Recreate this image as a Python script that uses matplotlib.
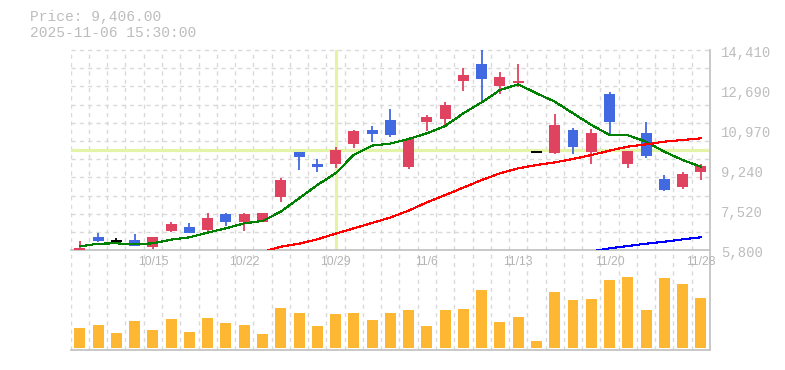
import numpy as np
import matplotlib.pyplot as plt
from matplotlib.transforms import offset_copy

# 日付 (2025)
dates = ['10/8', '10/9', '10/10', '10/14', '10/15', '10/16', '10/17',
         '10/20', '10/21', '10/22', '10/23', '10/24', '10/27', '10/28',
         '10/29', '10/30', '10/31', '11/4', '11/5', '11/6', '11/7',
         '11/10', '11/11', '11/12', '11/13', '11/14', '11/17', '11/18',
         '11/19', '11/20', '11/21', '11/25', '11/26', '11/27', '11/28']

opens = [5810, 6370, 6210, 6240, 5960, 6640, 6800, 6690, 7360, 7030,
         7030, 8110, 10030, 9530, 9530, 10380, 10970, 11400, 9380, 11320,
         11460, 13090, 13810, 12880, 13010, 10040, 10000, 10970, 10040, 12520,
         9530, 10840, 8870, 8540, 9180]
highs = [6200, 6540, 6330, 6500, 6370, 7020, 6970, 7400, 7400, 7400,
         7400, 8890, 10030, 9730, 10230, 10970, 11160, 11880, 10640, 11620,
         12180, 13640, 14410, 13470, 13810, 10040, 11660, 11040, 11020, 12610,
         10070, 11320, 9040, 9170, 9530]
lows = [5800, 6160, 6090, 6000, 5870, 6600, 6560, 6600, 6860, 6640,
        7000, 7890, 9250, 9180, 9350, 10210, 10470, 10690, 9300, 10910,
        11190, 12660, 12230, 12530, 12840, 10040, 9930, 9950, 9500, 10760,
        9350, 9780, 8360, 8450, 8840]
closes = [5900, 6200, 6210, 6000, 6370, 6930, 6560, 7190, 7030, 7360,
          7400, 8820, 9810, 9400, 10110, 10930, 10810, 10760, 10590, 11530,
          12050, 13340, 13180, 13250, 13040, 10040, 11190, 10260, 10840, 11330,
          10070, 9870, 8390, 9080, 9406]

# 出来高 (百万株, 推定)
volumes = [2.0, 2.3, 1.5, 2.7, 1.8, 2.9, 1.6, 3.0, 2.5, 2.3,
           1.4, 4.0, 3.5, 2.2, 3.4, 3.5, 2.8, 3.5, 3.8, 2.2,
           3.8, 3.9, 5.8, 2.6, 3.1, 0.7, 5.6, 4.8, 4.9, 6.8,
           7.1, 3.8, 7.0, 6.4, 5.0]

# 移動平均 (5日, 25日, 75日)
ma5 = [5970, 6085, 6100, 6060, 6100, 6260, 6360, 6560, 6745, 6960,
       7060, 7460, 8035, 8605, 9110, 9900, 10300, 10390, 10585, 10830,
       11145, 11690, 12160, 12690, 12935, 12550, 12190, 11690, 11190, 10760,
       10745, 10470, 10040, 9680, 9395]
ma25 = [None] * 10 + [5730, 5955, 6085, 6270, 6515, 6745, 6975, 7210, 7505,
                      7860, 8175, 8495, 8820, 9110, 9325, 9465, 9580, 9725,
                      9895, 10085, 10255, 10355, 10470, 10540, 10615]
ma75 = [None] * 28 + [5750, 5885, 5985, 6085, 6170, 6270, 6360]

ytick_vals = [5800, 7520, 9240, 10970, 12690, 14410]
label_idx = [4, 9, 14, 19, 24, 29, 34]

cross_idx = 14          # カーソル位置
cross_price = 10095

header1 = 'Price: 9,406.00'
header2 = '2025-11-06 15:30:00'

up_col = '#e0435f'
down_col = '#4169e1'
grid_col = '#d9d9d9'
spine_col = '#c4c4c4'
text_col = '#bdbdbd'

n = len(dates)
x = np.arange(n)
o = np.array(opens, float)
h = np.array(highs, float)
l = np.array(lows, float)
c = np.array(closes, float)

fig = plt.figure(figsize=(7.85, 3.7), dpi=100)
axv = fig.add_axes([70.7 / 785, 1 - 350 / 370, (710 - 70.7) / 785, 99.7 / 370])
ax = fig.add_axes([70.7 / 785, 1 - 250.3 / 370, (710 - 70.7) / 785, 200.3 / 370])
ax.patch.set_visible(False)
axv.patch.set_visible(False)

for a in (ax, axv):
    a.set_xlim(-0.5, n - 0.5)
    for s in ('left', 'top'):
        a.spines[s].set_visible(False)
    for s in ('right', 'bottom'):
        a.spines[s].set_color(spine_col)
        a.spines[s].set_linewidth(1.3)
    a.set_xticks([])
    a.set_yticks([])
    for gx in np.arange(-0.5, n - 0.5, 1):
        a.axvline(gx, color=grid_col, lw=1, ls=(0, (3, 3)), zorder=0)

ax.set_ylim(5800, 14410)
for gy in np.linspace(5800, 14410, 12)[1:]:
    ax.axhline(gy, color=grid_col, lw=1, ls=(0, (3, 3)), zorder=0, clip_on=False)

# クロスヘア
ax.axvline(cross_idx, color='#e3f4a6', lw=2.3, zorder=1)
ax.axhline(cross_price, color='#e3f4a6', lw=2.3, zorder=1)

# ローソク足
px_unit = (14410 - 5800) / 200.3
for i in range(n):
    if c[i] > o[i]:
        col = up_col
    elif c[i] < o[i]:
        col = down_col
    else:
        col = 'black'
    ax.vlines(x[i], l[i], h[i], color=col, lw=1.3, zorder=3)
    body = abs(c[i] - o[i])
    if body < 0.5:
        ax.hlines(o[i], x[i] - 0.3, x[i] + 0.3, color=col, lw=1.4, zorder=4)
    else:
        body = max(body, 1.3 * px_unit)
        ax.bar(x[i], body, bottom=min(o[i], c[i]), width=0.6, color=col,
               lw=0, zorder=4)

ax.plot(x, np.array(ma5, float), color='#008000', lw=0.8, zorder=5, antialiased=False)
ax.plot(x, np.array(ma25, float), color='#ff0000', lw=0.8, zorder=5, antialiased=False)
ax.plot(x, np.array(ma75, float), color='#0000ff', lw=0.8, zorder=5, antialiased=False)

# 価格ラベル
ytr = offset_copy(ax.get_yaxis_transform(), fig=fig, x=11, y=-3, units='dots')
for v in ytick_vals:
    ax.text(1, v, f'{v:,}', transform=ytr, ha='left', va='center',
            family='Liberation Mono', fontsize=10, color=text_col)

# 日付ラベル
xtr = offset_copy(ax.get_xaxis_transform(), fig=fig, x=0, y=-12, units='dots')
for i in label_idx:
    ax.text(i, 0, dates[i], transform=xtr, ha='center', va='center',
            family='Liberation Sans', fontsize=8.7, color='#b4b4b4', zorder=6)

# 出来高
axv.set_ylim(-0.2, 9.77)
axv.bar(x, volumes, width=0.6, color='#fdb733', zorder=2)

fig.text(30 / 785, 1 - 17.5 / 370, header1, ha='left', va='center',
         family='Liberation Mono', fontsize=10.5, color=text_col)
fig.text(30 / 785, 1 - 33 / 370, header2, ha='left', va='center',
         family='Liberation Mono', fontsize=10.5, color=text_col)

fig.savefig('out.png', dpi=100)
